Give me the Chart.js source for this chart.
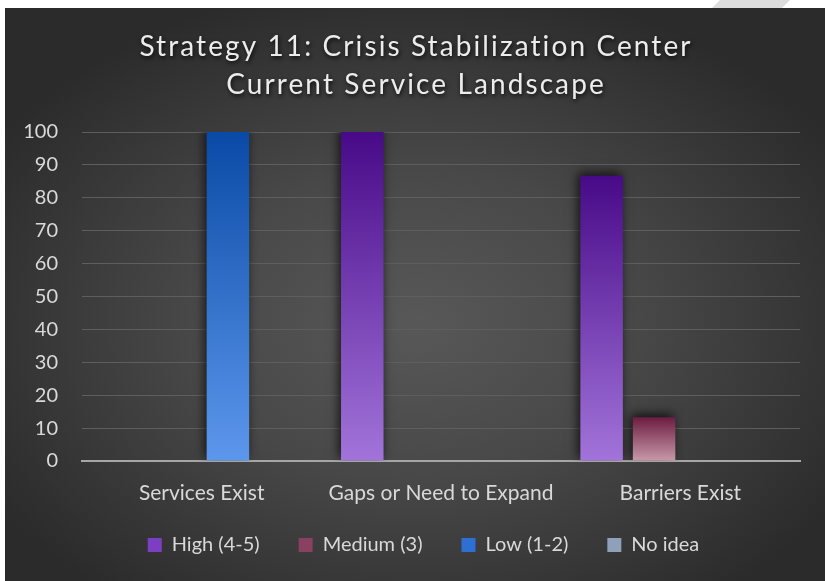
<!DOCTYPE html>
<html>
<head>
<meta charset="utf-8">
<script src="https://cdn.jsdelivr.net/npm/chart.js@4"></script>
<style>
  html, body { margin: 0; padding: 0; background: #fff; }
  body { width: 825px; height: 581px; position: relative; overflow: hidden; }
  .stripe { position: absolute; left: 700px; top: 0; width: 100px; height: 10px; background: #dcdcdc;
    clip-path: polygon(20px 0, 90px 0, 80px 10px, 10px 10px); }
  .panel { position: absolute; left: 5px; top: 8px; width: 820px; height: 573px;
    background: radial-gradient(ellipse 60% 60% at 50% 55%, #585858 0%, #484848 45%, #2b2b2b 100%); }
  canvas { display: block; }
</style>
</head>
<body>
<div class="stripe"></div>
<div class="panel"><canvas id="chart" width="820" height="573"></canvas></div>
<script>
const titleLines = ["Strategy 11: Crisis Stabilization Center", "Current Service Landscape"];
const categories = ["Services Exist", "Gaps or Need to Expand", "Barriers Exist"];
const seriesNames = ["High (4-5)", "Medium (3)", "Low (1-2)", "No idea"];
const highVals   = [0, 100, 86.7];
const mediumVals = [0, 0, 13.3];
const lowVals    = [100, 0, 0];
const noIdeaVals = [0, 0, 0];
const yTicks = [0, 10, 20, 30, 40, 50, 60, 70, 80, 90, 100];

// [top colour, bottom colour, legend colour]
const colours = [
  ["#480a88", "#a274da", "#7c3fc4"],
  ["#6c1c42", "#c89aa9", "#8a4060"],
  ["#0a4aa6", "#5c97ec", "#2d6fd2"],
  ["#6f829e", "#a9b7cb", "#8fa0ba"]
];

const FONT = "Lato, 'Open Sans', sans-serif";

function barFill(i) {
  return ctx => {
    const chart = ctx.chart;
    const y = chart.scales.y;
    if (!chart.chartArea || !y || ctx.parsed == null) return colours[i][2];
    const top = y.getPixelForValue(ctx.parsed.y);
    const bottom = y.getPixelForValue(0);
    if (bottom - top < 1) return colours[i][2];
    const g = chart.ctx.createLinearGradient(0, top, 0, bottom);
    g.addColorStop(0, colours[i][0]);
    g.addColorStop(1, colours[i][1]);
    return g;
  };
}

const titlePlugin = {
  id: "titleText",
  afterDraw(chart) {
    const c = chart.ctx;
    c.save();
    c.font = "28px " + FONT;
    c.letterSpacing = "2.1px";
    c.fillStyle = "#ececec";
    c.textAlign = "center";
    c.textBaseline = "middle";
    c.shadowColor = "rgba(0,0,0,0.8)";
    c.shadowBlur = 4;
    c.shadowOffsetX = 1;
    c.shadowOffsetY = 2;
    titleLines.forEach((t, i) => c.fillText(t, 411, 39 + i * 38));
    c.restore();
  }
};

const shadowPlugin = {
  id: "barShadow",
  beforeDatasetsDraw(chart) {
    const c = chart.ctx;
    c.save();
    c.shadowColor = "rgba(0,0,0,0.75)";
    c.shadowBlur = 10;
    c.shadowOffsetX = -2;
    c.shadowOffsetY = -3;
  },
  afterDatasetsDraw(chart) {
    chart.ctx.restore();
  }
};

// x labels overlap the legend band a bit, so give the x scale room to draw them
// and nudge the legend to the right like the original
const layoutTweak = {
  id: "layoutTweak",
  afterLayout(chart) {
    const x = chart.scales.x;
    x.bottom = x.top + 50;
    x.height = 50;
    if (chart.legend) {
      chart.legend.left += 20;
      chart.legend.right += 20;
    }
  }
};

const allVals = [highVals, mediumVals, lowVals, noIdeaVals];

new Chart(document.getElementById("chart"), {
  type: "bar",
  data: {
    labels: categories,
    datasets: seriesNames.map((name, i) => ({
      label: name,
      data: allVals[i],
      backgroundColor: barFill(i),
      borderWidth: 0,
      barPercentage: 0.81,
      categoryPercentage: 0.877
    }))
  },
  options: {
    responsive: false,
    animation: false,
    layout: { padding: { top: 124, left: 2, right: 25, bottom: 16 } },
    plugins: {
      title: { display: false },
      tooltip: { enabled: false },
      legend: {
        position: "bottom",
        labels: {
          color: "#d9d9d9",
          font: { family: FONT, size: 20 },
          boxWidth: 14,
          boxHeight: 14,
          padding: 39,
          generateLabels: chart => seriesNames.map((name, i) => ({
            text: name,
            fillStyle: colours[i][2],
            strokeStyle: colours[i][2],
            lineWidth: 0,
            fontColor: "#d9d9d9",
            datasetIndex: i
          }))
        }
      }
    },
    scales: {
      x: {
        grid: { display: false, drawTicks: false },
        border: { color: "#a6a6a6", width: 2 },
        ticks: { color: "#d9d9d9", font: { family: FONT, size: 21 }, padding: 20 },
        afterFit: scale => { scale.height = 35; }
      },
      y: {
        min: 0,
        max: 100,
        afterBuildTicks: axis => { axis.ticks = yTicks.map(v => ({ value: v })); },
        grid: { color: "#5e5e5e", lineWidth: 1, drawTicks: false },
        border: { display: false },
        ticks: { color: "#d9d9d9", font: { family: FONT, size: 20 }, padding: 24 },
        afterFit: scale => { scale.width = 75; }
      }
    }
  },
  plugins: [titlePlugin, shadowPlugin, layoutTweak]
});
</script>
</body>
</html>
